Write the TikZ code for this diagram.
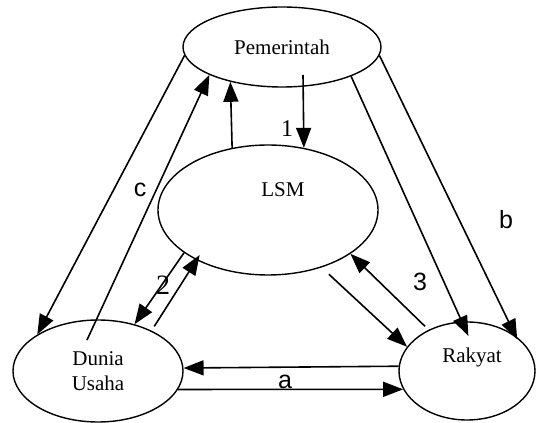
\documentclass[tikz,border=0pt]{standalone}
\usepackage{fontspec}
\setmainfont{Liberation Serif}
\newfontfamily\arialfont{Liberation Sans}
\usetikzlibrary{shapes.geometric,arrows.meta,calc}

\tikzset{
  ent/.style={draw, ellipse, inner sep=0pt, line width=1.4pt, align=center,
    font=\fontsize{21}{25}\selectfont},
  arr/.style={line width=1.6pt, -{Triangle[length=20pt,width=15pt]}},
  lbl/.style={font=\arialfont\fontsize{25}{25}\selectfont},
  num/.style={font=\fontsize{24}{24}\selectfont}
}

\begin{document}
\begin{tikzpicture}[x=1pt,y=1pt]
\useasboundingbox (0,0) rectangle (536,423);
% the four parties
\node[ent, minimum width=198pt, minimum height=80pt] (pem) at (282,376) {Pemerintah};
\node[ent, minimum width=220pt, minimum height=130pt,
  label={[font=\fontsize{21}{25}\selectfont, xshift=15pt, yshift=20pt]center:LSM}] (lsm) at (268,213) {};
\node[ent, minimum width=170pt, minimum height=102pt] (du) at (98,52) {Dunia\\Usaha};
\node[ent, minimum width=136pt, minimum height=98pt,
  label={[font=\fontsize{21}{25}\selectfont, xshift=5pt, yshift=14pt]center:Rakyat}] (rak) at (467,52) {};

% pemerintah <-> dunia usaha
\draw[arr] (pem.185) -- (du.149);
\draw[arr] ($(du)+(-11,31)$) -- (pem.201);
% pemerintah <-> lsm
\draw[arr] (lsm.120.5) -- (pem.214.6);
\draw[arr] ($(pem)+(21,-28)$) -- (lsm.60.4);
% pemerintah -> rakyat
\draw[arr, shorten >=-16pt] (pem.337) -- (rak.96);
\draw[arr, shorten >=-4pt] (pem.355) -- (rak.36);
% lsm <-> dunia usaha
\draw[arr] (lsm.207.6) -- (du.52.4);
\draw[arr, shorten <=5pt, shorten >=-6pt] (du.37.5) -- (lsm.215.5);
% lsm <-> rakyat
\draw[arr, shorten <=10pt] (lsm.-47) -- (rak.158);
\draw[arr, shorten <=5pt] (rak.133) -- (lsm.-28.4);
% rakyat <-> dunia usaha
\draw[arr] (rak.176.6) -- (du.2.7);
\draw[arr] (du.-13.5) -- (rak.196.9);

\node[lbl] (lc) at (140,233) {c};
\node[lbl] (lb) at (506,203) {b};
\node[lbl] (la) at (285,41) {a};
\node[lbl] (l3) at (420,141) {3};
\node[num] (l1) at (287,294) {1};
\node[num, font=\fontsize{28}{28}\selectfont] (l2) at (163,138) {2};
\end{tikzpicture}
\end{document}
